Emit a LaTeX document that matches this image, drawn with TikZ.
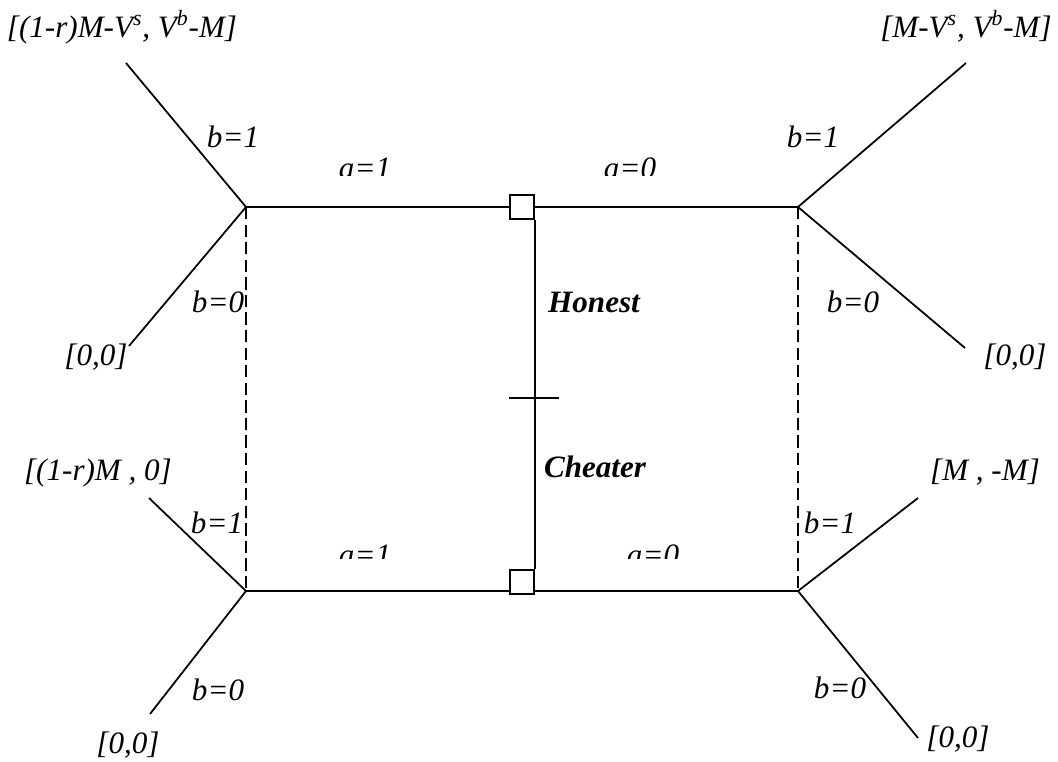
\documentclass[tikz,border=0pt]{standalone}
\usepackage{fontspec}
\setmainfont{Liberation Serif}
\begin{document}
\begin{tikzpicture}[x=0.02cm, y=-0.02cm, line width=1pt,
	every node/.style={font=\fontsize{17.7}{20}\selectfont\itshape, inner sep=0pt, anchor=base},
	typelbl/.style={font=\fontsize{17.7}{20}\selectfont\bfseries\itshape},
	movebox/.style={draw, fill=white, minimum size=0.48cm, anchor=center},
	infoset/.style={dash pattern=on 7pt off 3pt}]
	\useasboundingbox (0,0) rectangle (1058,761);
	
	% 1. decision points and end points
	\coordinate (nat) at (534,398);
	\coordinate (bHL) at (246,207);
	\coordinate (bHR) at (798,207);
	\coordinate (bCL) at (246,591);
	\coordinate (bCR) at (798,591);
	\coordinate (eHL1) at (126,63);
	\coordinate (eHL0) at (129,346);
	\coordinate (eHR1) at (966,63);
	\coordinate (eHR0) at (965,348);
	\coordinate (eCL1) at (149,498);
	\coordinate (eCL0) at (150,714);
	\coordinate (eCR1) at (918,498);
	\coordinate (eCR0) at (918,738);
	
	% 2. seller moves a and buyer moves b
	\draw (bHL) -- (bHR);
	\draw (bCL) -- (bCR);
	\draw (eHL1) -- (bHL) -- (eHL0);
	\draw (eHR1) -- (bHR) -- (eHR0);
	\draw (eCL1) -- (bCL) -- (eCL0);
	\draw (eCR1) -- (bCR) -- (eCR0);
	\draw[infoset] (bHL) -- (bCL);
	\draw[infoset] (bHR) -- (bCR);
	
	% 3. seller nodes and nature
	\node[movebox] (sH) at (522,207) {};
	\node[movebox] (sC) at (522,582) {};
	\draw (sH.south east) -- (sC.north east);
	\draw ([xshift=-0.5cm]nat) -- ([xshift=0.5cm]nat);
	\node[typelbl] (hon) at (594,312) {Honest};
	\node[typelbl] (che) at (595,477) {Cheater};
	
	% 4. labels of the moves
	\begin{scope}
		\clip (300,0) rectangle (700,175);
		\node (aH1) at (365,178) {a=1};
		\node (aH0) at (630,178) {a=0};
	\end{scope}
	\begin{scope}
		\clip (300,400) rectangle (700,558);
		\node (aC1) at (365,565) {a=1};
		\node (aC0) at (653,565) {a=0};
	\end{scope}
	\node (bHL1) at (233,147) {b=1};
	\node (bHL0) at (218,312) {b=0};
	\node (bHR1) at (813,147) {b=1};
	\node (bHR0) at (853,312) {b=0};
	\node (bCL1) at (217,533) {b=1};
	\node (bCL0) at (218,700) {b=0};
	\node (bCR1) at (830,533) {b=1};
	\node (bCR0) at (840,698) {b=0};
	
	% 5. payoffs
	\node (pHL1) at (122,37) {[(1-r)M-V\textsuperscript{s}, V\textsuperscript{b}-M]};
	\node (pHL0) at (96,365) {[0,0]};
	\node (pHR1) at (966,37) {[M-V\textsuperscript{s}, V\textsuperscript{b}-M]};
	\node (pHR0) at (1015,365) {[0,0]};
	\node (pCL1) at (98,480) {[(1-r)M , 0]};
	\node (pCL0) at (128,753) {[0,0]};
	\node (pCR1) at (985,480) {[M , -M]};
	\node (pCR0) at (958,747) {[0,0]};
\end{tikzpicture}
\end{document}
